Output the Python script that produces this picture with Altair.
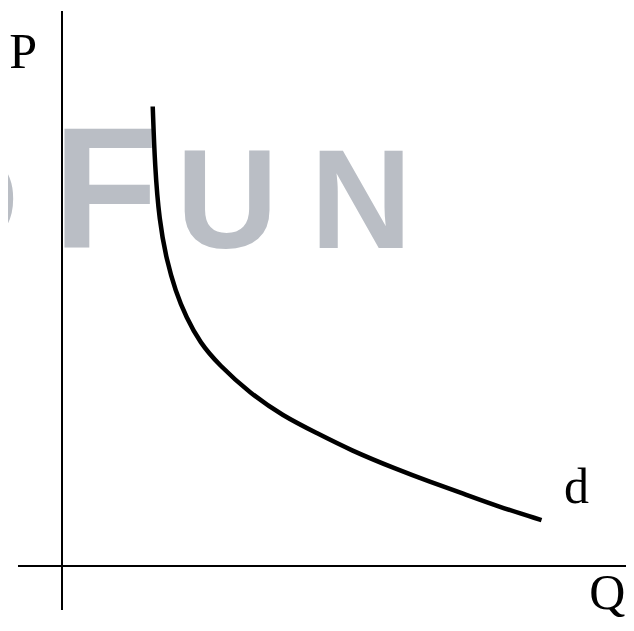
import altair as alt
import pandas as pd

# Demand curve d (Q, P)
curve_q = [1.68, 1.72, 1.80, 1.94, 2.10, 2.30, 2.56, 2.90, 3.48, 4.09, 4.72, 5.33, 6.20, 6.81, 7.43, 8.05, 8.88]
curve_p = [8.51, 7.40, 6.40, 5.65, 5.10, 4.60, 4.13, 3.73, 3.20, 2.78, 2.46, 2.15, 1.79, 1.56, 1.34, 1.11, 0.85]

# Axis lines (vertical P axis, horizontal Q axis)
vaxis_q = [0.0]
vaxis_p = [-0.815]
vaxis_p2 = [10.28]
haxis_q = [-0.815]
haxis_q2 = [10.45]
haxis_p = [0.0]

# Labels
label_text = ["P", "d", "Q"]
label_q = [-0.72, 9.53, 10.10]
label_p = [9.22, 1.167, -0.80]

# Watermark letters
wm_text = ["D", "F", "U", "N"]
wm_q = [-1.74, 0.806, 3.06, 5.54]
wm_p = [5.89, 5.89, 5.89, 5.89]
wm_size = [141, 172, 141, 141]

xs = alt.Scale(domain=[-1, 10.4444], nice=False, zero=False)
ys = alt.Scale(domain=[-1.0556, 10.3333], nice=False, zero=False)

curve_df = pd.DataFrame({"Q": curve_q, "P": curve_p})
v_df = pd.DataFrame({"Q": vaxis_q, "P": vaxis_p, "P2": vaxis_p2})
h_df = pd.DataFrame({"Q": haxis_q, "Q2": haxis_q2, "P": haxis_p})
lab_df = pd.DataFrame({"t": label_text, "Q": label_q, "P": label_p})
wm_df = pd.DataFrame({"t": wm_text, "Q": wm_q, "P": wm_p, "s": wm_size})

watermark = alt.Chart(wm_df).mark_text(
    font="Liberation Sans", fontWeight="bold", color="#babec5",
    align="center", baseline="alphabetic"
).encode(
    x=alt.X("Q:Q", scale=xs, axis=None),
    y=alt.Y("P:Q", scale=ys, axis=None),
    text="t:N",
    size=alt.Size("s:Q", scale=None, legend=None),
)

vline = alt.Chart(v_df).mark_rule(color="black", strokeWidth=2).encode(
    x=alt.X("Q:Q", scale=xs, axis=None),
    y=alt.Y("P:Q", scale=ys, axis=None),
    y2="P2:Q",
)
hline = alt.Chart(h_df).mark_rule(color="black", strokeWidth=2).encode(
    x=alt.X("Q:Q", scale=xs, axis=None),
    x2="Q2:Q",
    y=alt.Y("P:Q", scale=ys, axis=None),
)

curve = alt.Chart(curve_df).mark_line(
    color="black", strokeWidth=4.5, interpolate="basis"
).encode(
    x=alt.X("Q:Q", scale=xs, axis=None),
    y=alt.Y("P:Q", scale=ys, axis=None),
    order=alt.Order("Q:Q"),
)

labels = alt.Chart(lab_df).mark_text(
    font="Liberation Serif", fontSize=50, color="black",
    align="center", baseline="alphabetic"
).encode(
    x=alt.X("Q:Q", scale=xs, axis=None),
    y=alt.Y("P:Q", scale=ys, axis=None),
    text="t:N",
)

chart = alt.layer(watermark, vline, hline, curve, labels).properties(
    width=618, height=615, padding=0,
    autosize=alt.AutoSizeParams(type="none"),
    background="white",
).configure_view(stroke=None)

chart.save("out.html", embed_options={"renderer": "svg", "actions": False})
